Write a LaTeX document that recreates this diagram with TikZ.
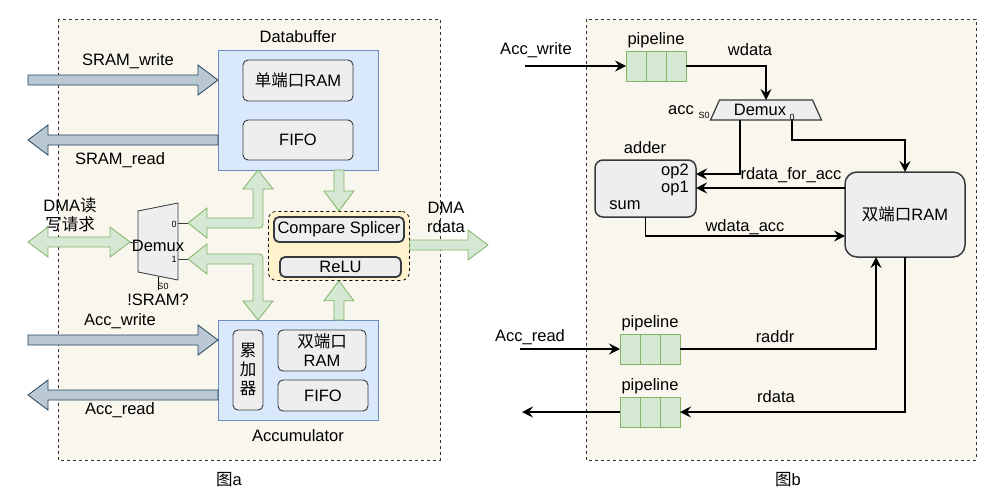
\documentclass[tikz,border=0pt]{standalone}
\usepackage{fontspec}
\setmainfont{Liberation Sans}
\newfontfamily\cjk{Noto Sans CJK SC}
\usetikzlibrary{arrows.meta,positioning,calc}

\definecolor{panelbg}{HTML}{F9F7ED}
\definecolor{blkfill}{HTML}{DAE8FC}
\definecolor{blkedge}{HTML}{6C8EBF}
\definecolor{unitfill}{HTML}{EEEEEE}
\definecolor{unitedge}{HTML}{36393D}
\definecolor{grayfill}{HTML}{BAC8D3}
\definecolor{grayedge}{HTML}{23445D}
\definecolor{greenfill}{HTML}{D5E8D4}
\definecolor{greenedge}{HTML}{82B366}
\definecolor{grpfill}{HTML}{FFF2CC}

% fat arrows: [style]{tail}{tip}
\newcommand{\fatR}[3][]{\draw[#1] ($(#2)+(0,-5)$) -- ($(#3)+(-20,-5)$) -- ($(#3)+(-20,-15)$) -- (#3) -- ($(#3)+(-20,15)$) -- ($(#3)+(-20,5)$) -- ($(#2)+(0,5)$) -- cycle;}
\newcommand{\fatL}[3][]{\draw[#1] ($(#2)+(0,-5)$) -- ($(#3)+(20,-5)$) -- ($(#3)+(20,-15)$) -- (#3) -- ($(#3)+(20,15)$) -- ($(#3)+(20,5)$) -- ($(#2)+(0,5)$) -- cycle;}
\newcommand{\fatD}[3][]{\draw[#1] ($(#2)+(-5,0)$) -- ($(#3)+(-5,-20)$) -- ($(#3)+(-15,-20)$) -- (#3) -- ($(#3)+(15,-20)$) -- ($(#3)+(5,-20)$) -- ($(#2)+(5,0)$) -- cycle;}
\newcommand{\fatU}[3][]{\draw[#1] ($(#2)+(-5,0)$) -- ($(#3)+(-5,20)$) -- ($(#3)+(-15,20)$) -- (#3) -- ($(#3)+(15,20)$) -- ($(#3)+(5,20)$) -- ($(#2)+(5,0)$) -- cycle;}
\newcommand{\fatLR}[3][]{\draw[#1] (#2) -- ($(#2)+(20,-15)$) -- ($(#2)+(20,-5)$) -- ($(#3)+(-20,-5)$) -- ($(#3)+(-20,-15)$) -- (#3) -- ($(#3)+(-20,15)$) -- ($(#3)+(-20,5)$) -- ($(#2)+(20,5)$) -- ($(#2)+(20,15)$) -- cycle;}

\begin{document}
\begin{tikzpicture}[x=1pt, y=-1pt,
  font=\fontsize{16.5}{19}\selectfont,
  panel/.style={draw=black!80, dashed, fill=panelbg, line width=0.8pt},
  blk/.style={draw=blkedge, fill=blkfill, inner sep=0, outer sep=0, minimum width=160pt, anchor=north west},
  unit/.style={draw=unitedge, fill=unitfill, line width=0.9pt, rounded corners=5pt, inner sep=1pt, outer sep=0, anchor=north west, align=center},
  grp/.style={draw=black, dashed, fill=grpfill, rounded corners=8pt, line width=0.8pt, inner sep=0, anchor=north west},
  grayarr/.style={draw=grayedge, fill=grayfill, line width=0.8pt},
  greenarr/.style={draw=greenedge, fill=greenfill, line width=0.8pt},
  mux/.style={draw=unitedge, fill=unitfill, line width=0.8pt},
  cell/.style={draw=greenedge, fill=greenfill, minimum width=20pt, minimum height=30pt, inner sep=0, outer sep=0},
  wire/.style={line width=1.5pt, -{Stealth[length=11pt,width=11pt,inset=4pt]}},
  port/.style={font=\fontsize{9}{10}\selectfont, inner sep=0},
  lbl/.style={inner sep=0, align=center}
]
\useasboundingbox (0,0) rectangle (992,501);

% panels
\draw[panel] (58,19) rectangle (440,460);
\draw[panel] (586,19) rectangle (976,460);
\node[lbl] (capa) at (229,480) {{\cjk 图}a};
\node[lbl] (capb) at (788,480) {{\cjk 图}b};

% ---- a ----
\node[blk, minimum height=120pt] (dbuf) at (218,50) {};
\node[lbl] (dbuftxt) at (298,37) {Databuffer};
\node[unit, minimum width=110pt, minimum height=41pt] (sram) at (243,60) {{\cjk 单端口}RAM};
\node[unit, minimum width=110pt, minimum height=40pt] (dfifo) at (243,120) {FIFO};

\node[blk, minimum height=100pt] (accu) at (218,320) {};
\node[lbl] (accutxt) at (298,436) {Accumulator};
\node[unit, minimum width=30pt, minimum height=80pt, font=\cjk\fontsize{16.5}{19}\selectfont] (acc) at (233,330) {累\\加\\器};
\node[unit, minimum width=88pt, minimum height=41pt] (dpram) at (278,330) {{\cjk 双端口}\\RAM};
\node[unit, minimum width=90pt, minimum height=31pt] (afifo) at (278,380) {FIFO};

\node[grp, minimum width=141pt, minimum height=69pt] (grp) at (268,211) {};
\node[unit, line width=1.8pt, minimum width=130pt, minimum height=25pt] (cmp) at (274,217) {Compare Splicer};
\node[unit, line width=1.8pt, minimum width=121pt, minimum height=20pt] (relu) at (280,257) {ReLU};

% demux
\node[minimum width=40pt, minimum height=77pt, inner sep=0, outer sep=0, anchor=north west] (ldmx) at (138,203) {};
\draw[mux] ($(ldmx.north west)+(0,8)$) -- (ldmx.north east) -- (ldmx.south east) -- ($(ldmx.south west)+(0,-8)$) -- cycle;
\node[lbl] (ldmxtxt) at (158,246) {Demux};
\node[port] (ldp0) at (174,224) {0};
\node[port] (ldp1) at (174,259) {1};
\node[port] (lds0) at (163,286) {S0};
\draw[line width=0.8pt] ($(ldmx.south)+(0,-3)$) -- ++(0,13);
\node[lbl] (isram) at (158,300) {!SRAM?};
\node[lbl] (dmareq) at (70,215) {DMA{\cjk 读}\\{\cjk 写请求}};

\coordinate (dmain) at (28,242);
\coordinate (ldin) at (130,242);
\coordinate (ld0) at (188,223);
\coordinate (ld1) at (188,259);
\draw[line width=0.8pt, draw=unitedge] (ldin) -- (ldmx.west |- ldin);
\draw[line width=0.8pt, draw=unitedge] (ldmx.east |- ld0) -- (ld0);
\draw[line width=0.8pt, draw=unitedge] (ldmx.east |- ld1) -- (ld1);
\fatLR[greenarr]{dmain}{ldin}

% SRAM / Acc ports
\coordinate (swin) at (28,80);
\coordinate (srout) at (28,140);
\coordinate (awin) at (28,340);
\coordinate (arout) at (28,395);
\fatR[grayarr]{swin}{dbuf.west |- swin}
\fatL[grayarr]{dbuf.west |- srout}{srout}
\fatR[grayarr]{awin}{accu.west |- awin}
\fatL[grayarr]{accu.west |- arout}{arout}
\node[lbl] (swtxt) at (128,61) {SRAM\_write};
\node[lbl] (srtxt) at (120,160) {SRAM\_read};
\node[lbl] (awtxt) at (120,321) {Acc\_write};
\node[lbl] (artxt) at (120,410) {Acc\_read};

% green paths
\fatD[greenarr]{dbuf.south -| grp.north}{grp.north}
\fatU[greenarr]{accu.north -| grp.south}{grp.south}
\coordinate (dmaout) at (488,245);
\fatR[greenarr]{grp.east |- dmaout}{dmaout}
\node[lbl] (dmatxt) at (446,217) {DMA\\rdata};

\coordinate (t1) at ($(dbuf.south west)+(40,0)$);
\coordinate (t2) at ($(accu.north west)+(40,0)$);
\coordinate (k1) at (t1 |- ld0);
\coordinate (k2) at (t2 |- ld1);
\draw[greenarr] (ld0) -- ++(19,-15) -- ++(0,10) -- ($(k1)+(-5,-5)$) -- ($(t1)+(-5,19)$) -- ++(-10,0) -- (t1) -- ++(15,19) -- ++(-10,0) -- ($(k1)+(5,-3)$) .. controls ($(k1)+(5,5)$) .. ($(k1)+(-3,5)$) -- ($(ld0)+(19,5)$) -- ++(0,10) -- cycle;
\draw[greenarr] (ld1) -- ++(19,-15) -- ++(0,10) -- ($(k2)+(-3,-5)$) .. controls ($(k2)+(5,-5)$) .. ($(k2)+(5,3)$) -- ($(t2)+(5,-19)$) -- ++(10,0) -- (t2) -- ++(-15,-19) -- ++(10,0) -- ($(k2)+(-5,5)$) -- ($(ld1)+(19,5)$) -- ++(0,10) -- cycle;

% ---- b ----
\node[cell] (wp1) at (636,66) {};
\node[cell, right=0pt of wp1] (wp2) {};
\node[cell, right=0pt of wp2] (wp3) {};
\node[lbl, above=3pt of wp2] (wptxt) {pipeline};
\node[cell] (rp1) at (630,349) {};
\node[cell, right=0pt of rp1] (rp2) {};
\node[cell, right=0pt of rp2] (rp3) {};
\node[lbl, above=3pt of rp2] (rptxt) {pipeline};
\node[cell] (dp1) at (630,412) {};
\node[cell, right=0pt of dp1] (dp2) {};
\node[cell, right=0pt of dp2] (dp3) {};
\node[lbl, above=3pt of dp2] (dptxt) {pipeline};

\node[minimum width=111pt, minimum height=20pt, inner sep=0, outer sep=0] (rdmx) at (766,110) {};
\draw[mux, line width=1.2pt] ($(rdmx.north west)+(9,0)$) -- ($(rdmx.north east)+(-9,0)$) -- (rdmx.south east) -- (rdmx.south west) -- cycle;
\node[lbl] (rdmxtxt) at (760,110) {Demux};
\node[port] (rdp0) at (792,117) {0};
\node[lbl] (acctxt) at (681,110) {acc};
\node[port] (rds0) at (704,115) {S0};

\node[unit, line width=1.5pt, rounded corners=8pt, minimum width=101pt, minimum height=57pt] (adder) at (595,160) {};
\node[lbl] (addertxt) at (645,148) {adder};
\node[lbl] (op2txt) at (675,171) {op2};
\node[lbl] (op1txt) at (675,189) {op1};
\node[lbl] (sumtxt) at (625,205) {sum};
\node[unit, line width=1.5pt, rounded corners=12pt, minimum width=120pt, minimum height=85pt] (ram) at (845,172) {{\cjk 双端口}RAM};

\coordinate (awr) at (525,66);
\coordinate (ardin) at (520,349);
\coordinate (rdout) at (522,412);
\coordinate (rdo0) at (740,120);
\coordinate (rdo1) at (792,120);
\coordinate (aop2) at ($(adder.north east)+(0,14)$);
\coordinate (aop1) at ($(adder.north east)+(0,28)$);

\draw[wire] (awr) -- (wp1.west);
\draw[wire] (wp3.east) -| (rdmx.north);
\draw[wire] (rdo0) |- (aop2);
\draw[wire] (rdo1) -- ++(0,20) -| (ram.north);
\draw[wire] (ram.west |- aop1) -- (aop1);
\draw[wire] (adder.south) |- ($(ram.north west)+(0,64)$);
\draw[wire] (ardin) -- (rp1.west);
\draw[wire] (rp3.east) -| ($(ram.south)+(-29,0)$);
\draw[wire] (ram.south) |- (dp3.east);
\draw[wire] (dp1.west) -- (rdout);

\node[lbl] (awrtxt) at (536,50) {Acc\_write};
\node[lbl] (wdtxt) at (750,50) {wdata};
\node[lbl] (rfatxt) at (791,175) {rdata\_for\_acc};
\node[lbl] (wdatxt) at (745,227) {wdata\_acc};
\node[lbl] (ardtxt) at (530,337) {Acc\_read};
\node[lbl] (radtxt) at (775,337) {raddr};
\node[lbl] (rdtxt) at (776,397) {rdata};
\end{tikzpicture}
\end{document}
